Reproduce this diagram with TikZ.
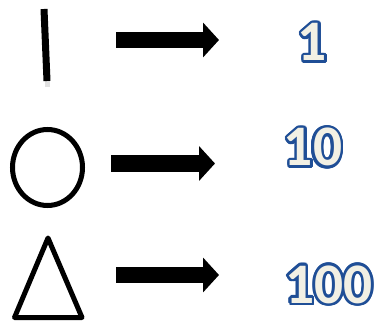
\documentclass[tikz,border=0pt]{standalone}
\usepackage{fontspec}
\setmainfont{Carlito}
\usepackage[copies]{contour}
\usetikzlibrary{arrows.meta}
\usetikzlibrary{positioning}
\definecolor{numblue}{RGB}{31,78,150}
\definecolor{numfill}{RGB}{242,240,228}
\contourlength{1.9pt}
\contournumber{24}
\tikzset{
  shapeline/.style={draw=black,line width=3.75pt},
  bigarrow/.style={line width=12pt,-{Triangle[length=12pt,width=25.5pt]}},
  numtext/.style={font=\fontsize{43}{43}\selectfont\bfseries,inner sep=0pt}
}
\newcommand{\outlinednum}[1]{\contour{numblue}{\textcolor{numfill}{#1}}}

\begin{document}
\begin{tikzpicture}[x=0.75pt,y=-0.75pt]
\useasboundingbox (0,0) rectangle (378,324);
% shapes
\fill[black!12] (45,80) rectangle (50,87);
\draw[shapeline,line width=5.25pt] (44,9) -- (47,81);
\draw[shapeline] (47.5,167.5) ellipse [x radius=35,y radius=38];
\draw[shapeline,line join=round] (48,238) -- (82,317.5) -- (14.5,317.5) -- cycle;
% numbers
\node[numtext] (one) at (312.5,43.5) {\outlinednum{1}};
\node[numtext] (ten) at (313,148.5) {\outlinednum{10}};
\node[numtext] (hundred) at (329,286) {\outlinednum{100}};
% arrows
\coordinate (s1) at (116,40);
\coordinate (e1) at (219,40);
\coordinate (s2) at (111,163.5);
\coordinate (e2) at (215,163.5);
\coordinate (s3) at (116,275);
\coordinate (e3) at (219,275);
\draw[bigarrow] (s1) -- (e1);
\draw[bigarrow] (s2) -- (e2);
\draw[bigarrow] (s3) -- (e3);
\end{tikzpicture}
\end{document}
